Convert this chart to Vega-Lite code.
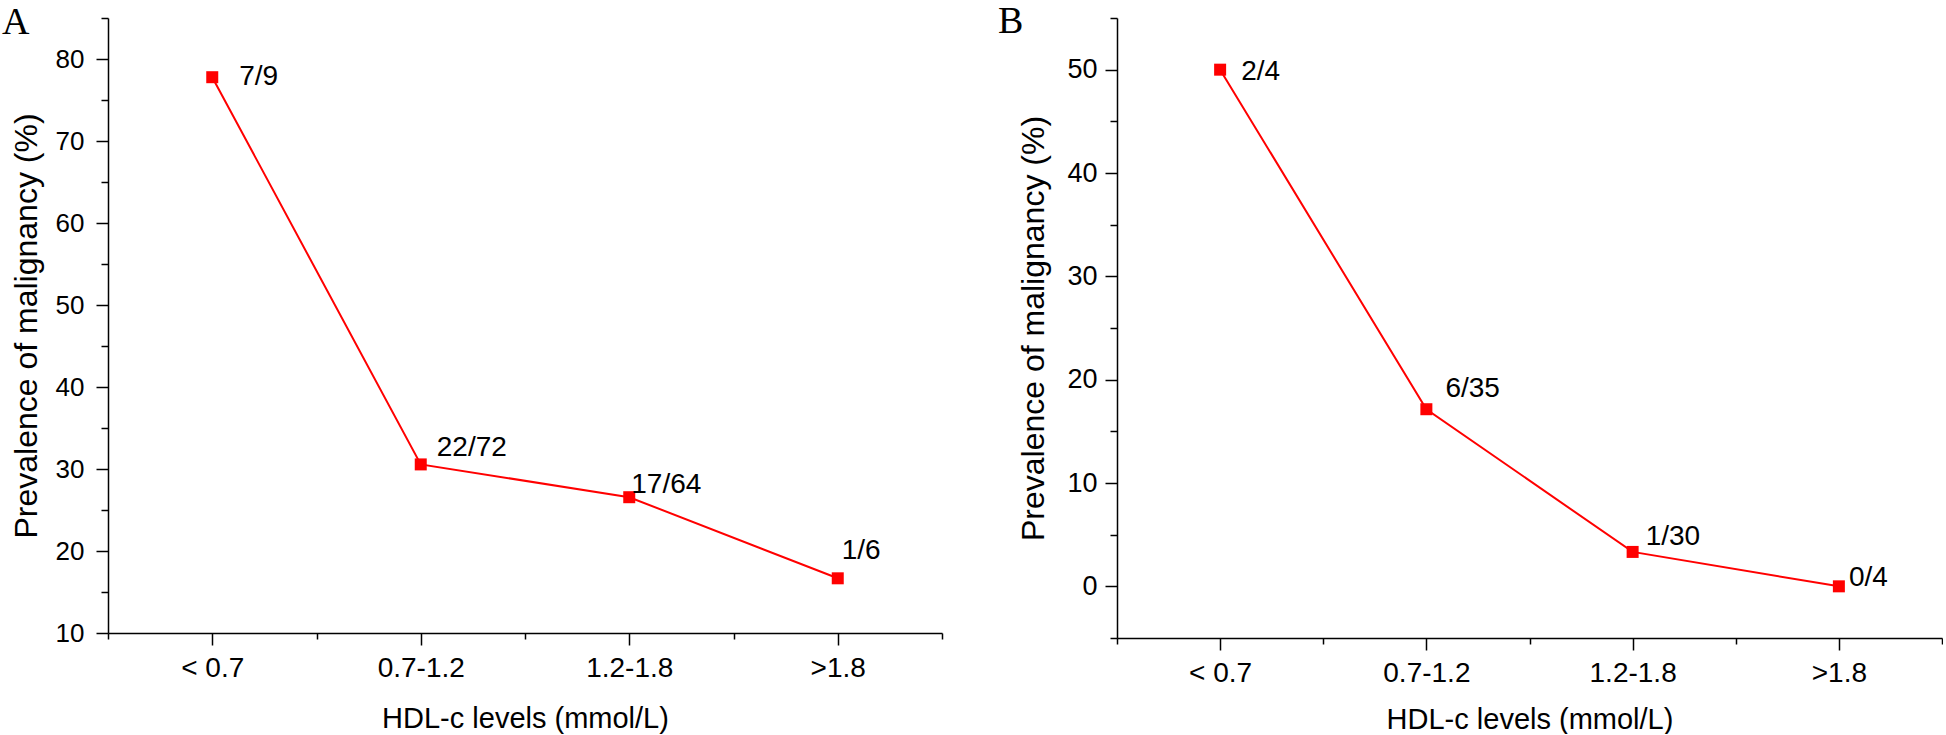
{
  "$schema": "https://vega.github.io/schema/vega-lite/v6.json",
  "background": "white",
  "padding": {"left": 2, "top": 3, "right": 0, "bottom": 0},
  "bounds": "flush",
  "spacing": 175,
  "config": {
    "view": {"stroke": null},
    "font": "Liberation Sans",
    "axis": {
      "grid": false,
      "domainColor": "black",
      "domainWidth": 1.5,
      "tickColor": "black",
      "tickWidth": 1.5,
      "labelColor": "black",
      "titleColor": "black",
      "labelFont": "Liberation Sans",
      "titleFont": "Liberation Sans",
      "titleFontWeight": "normal",
      "labelOverlap": false,
      "labelFlush": false
    }
  },
  "datasets": {
    "a": [
      {"idx": 1, "level": "< 0.7", "pct": 77.78, "label": "7/9"},
      {"idx": 2, "level": "0.7-1.2", "pct": 30.56, "label": "22/72"},
      {"idx": 3, "level": "1.2-1.8", "pct": 26.56, "label": "17/64"},
      {"idx": 4, "level": ">1.8", "pct": 16.67, "label": "1/6"}
    ],
    "b": [
      {"idx": 1, "level": "< 0.7", "pct": 50.0, "label": "2/4"},
      {"idx": 2, "level": "0.7-1.2", "pct": 17.14, "label": "6/35"},
      {"idx": 3, "level": "1.2-1.8", "pct": 3.33, "label": "1/30"},
      {"idx": 4, "level": ">1.8", "pct": 0.0, "label": "0/4"}
    ]
  },
  "hconcat": [
    {
      "width": 834,
      "height": 615,
      "data": {"name": "a"},
      "title": {"text": "A", "anchor": "start", "frame": "group", "font": "Liberation Serif", "fontSize": 38, "fontWeight": "normal", "color": "black", "baseline": "alphabetic", "offset": -54, "dx": -106, "dy": 13},
      "encoding": {
        "x": {
          "field": "idx", "type": "quantitative",
          "scale": {"domain": [0.5, 4.5], "nice": false, "zero": false},
          "axis": {
            "title": "HDL-c levels (mmol/L)",
            "values": [0.5, 1, 1.5, 2, 2.5, 3, 3.5, 4, 4.5],
            "labelExpr": "datum.value == 1 ? '< 0.7' : datum.value == 2 ? '0.7-1.2' : datum.value == 3 ? '1.2-1.8' : datum.value == 4 ? '>1.8' : ''",
            "tickSize": {"condition": {"test": "datum.value % 1 === 0", "value": 12}, "value": 6},
            "labelFontSize": 28, "labelPadding": 9,
            "titleFontSize": 29, "titlePadding": 22
          }
        },
        "y": {
          "field": "pct", "type": "quantitative",
          "scale": {"domain": [10, 85], "nice": false, "zero": false},
          "axis": {
            "title": "Prevalence of malignancy (%)",
            "values": [10, 15, 20, 25, 30, 35, 40, 45, 50, 55, 60, 65, 70, 75, 80, 85],
            "labelExpr": "datum.value % 10 === 0 ? datum.label : ''",
            "tickSize": {"condition": {"test": "datum.value % 10 === 0", "value": 12}, "value": 7},
            "labelFontSize": 26, "labelPadding": 12,
            "titleFontSize": 32, "titlePadding": 12
          }
        }
      },
      "layer": [
        {"mark": {"type": "line", "color": "#ff0000", "strokeWidth": 2}},
        {"mark": {"type": "square", "color": "#ff0000", "size": 144, "opacity": 1, "filled": true}},
        {"transform": [{"filter": "datum.label == '7/9'"}], "mark": {"type": "text", "align": "left", "baseline": "alphabetic", "fontSize": 28, "color": "black", "dx": 27, "dy": 8}, "encoding": {"text": {"field": "label"}}},
        {"transform": [{"filter": "datum.label == '22/72'"}], "mark": {"type": "text", "align": "left", "baseline": "alphabetic", "fontSize": 28, "color": "black", "dx": 16, "dy": -8}, "encoding": {"text": {"field": "label"}}},
        {"transform": [{"filter": "datum.label == '17/64'"}], "mark": {"type": "text", "align": "left", "baseline": "alphabetic", "fontSize": 28, "color": "black", "dx": 2, "dy": -4}, "encoding": {"text": {"field": "label"}}},
        {"transform": [{"filter": "datum.label == '1/6'"}], "mark": {"type": "text", "align": "left", "baseline": "alphabetic", "fontSize": 28, "color": "black", "dx": 4, "dy": -19}, "encoding": {"text": {"field": "label"}}}
      ]
    },
    {
      "width": 825,
      "height": 620,
      "data": {"name": "b"},
      "title": {"text": "B", "anchor": "start", "frame": "group", "font": "Liberation Serif", "fontSize": 38, "fontWeight": "normal", "color": "black", "baseline": "alphabetic", "offset": -54, "dx": -119, "dy": 13},
      "encoding": {
        "x": {
          "field": "idx", "type": "quantitative",
          "scale": {"domain": [0.5, 4.5], "nice": false, "zero": false},
          "axis": {
            "title": "HDL-c levels (mmol/L)",
            "values": [0.5, 1, 1.5, 2, 2.5, 3, 3.5, 4, 4.5],
            "labelExpr": "datum.value == 1 ? '< 0.7' : datum.value == 2 ? '0.7-1.2' : datum.value == 3 ? '1.2-1.8' : datum.value == 4 ? '>1.8' : ''",
            "tickSize": {"condition": {"test": "datum.value % 1 === 0", "value": 12}, "value": 6},
            "labelFontSize": 28, "labelPadding": 9,
            "titleFontSize": 29, "titlePadding": 18
          }
        },
        "y": {
          "field": "pct", "type": "quantitative",
          "scale": {"domain": [-5, 55], "nice": false, "zero": false},
          "axis": {
            "title": "Prevalence of malignancy (%)",
            "values": [-5, 0, 5, 10, 15, 20, 25, 30, 35, 40, 45, 50, 55],
            "labelExpr": "datum.value % 10 === 0 ? datum.label : ''",
            "tickSize": {"condition": {"test": "datum.value % 10 === 0", "value": 12}, "value": 7},
            "labelFontSize": 27, "labelPadding": 8,
            "titleFontSize": 32, "titlePadding": 16
          }
        }
      },
      "layer": [
        {"mark": {"type": "line", "color": "#ff0000", "strokeWidth": 2}},
        {"mark": {"type": "square", "color": "#ff0000", "size": 144, "opacity": 1, "filled": true}},
        {"transform": [{"filter": "datum.label == '2/4'"}], "mark": {"type": "text", "align": "left", "baseline": "alphabetic", "fontSize": 28, "color": "black", "dx": 21, "dy": 10}, "encoding": {"text": {"field": "label"}}},
        {"transform": [{"filter": "datum.label == '6/35'"}], "mark": {"type": "text", "align": "left", "baseline": "alphabetic", "fontSize": 28, "color": "black", "dx": 19, "dy": -12}, "encoding": {"text": {"field": "label"}}},
        {"transform": [{"filter": "datum.label == '1/30'"}], "mark": {"type": "text", "align": "left", "baseline": "alphabetic", "fontSize": 28, "color": "black", "dx": 13, "dy": -7}, "encoding": {"text": {"field": "label"}}},
        {"transform": [{"filter": "datum.label == '0/4'"}], "mark": {"type": "text", "align": "left", "baseline": "alphabetic", "fontSize": 28, "color": "black", "dx": 10, "dy": 0}, "encoding": {"text": {"field": "label"}}}
      ]
    }
  ]
}
